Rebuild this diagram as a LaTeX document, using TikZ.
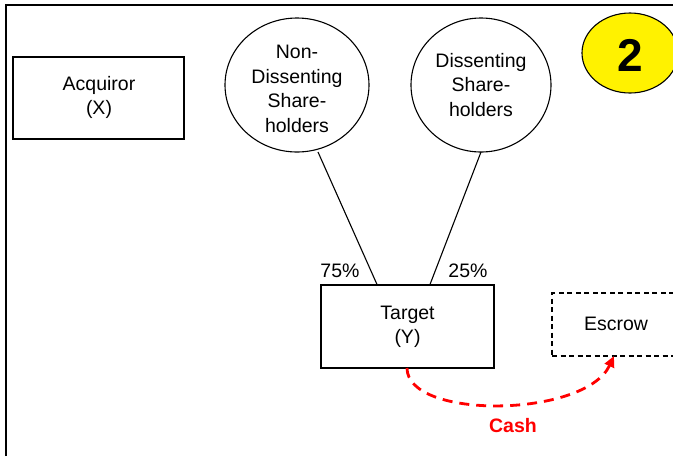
\documentclass[tikz,border=0pt]{standalone}
\usepackage{fontspec}
\setmainfont{Liberation Sans}
\usetikzlibrary{arrows.meta}
\begin{document}
\begin{tikzpicture}[x=1pt,y=-1pt,
  txt/.style={font=\fontsize{19.5}{24.5}\selectfont, align=center},
  entity/.style={draw, line width=1.1pt, rectangle, inner sep=0pt},
  link/.style={line width=1.1pt},
  cashflow/.style={draw=red, line width=2.8pt, dash pattern=on 10pt off 7pt, -{Triangle[length=11pt,width=10pt]}}]
\useasboundingbox (0,0) rectangle (673,456);
\clip (0,0) rectangle (673,456);
% frame
\draw[line width=2.5pt] (6,456) -- (6,5) -- (680,5);
% Acquiror
\node[entity, minimum width=171pt, minimum height=82pt] (acq) at (98.5,98) {};
\node[txt] (acqt) at (99,97.5) {Acquiror\\(X)};
% circles
\draw[line width=1.1pt] (297,85) ellipse [x radius=72, y radius=67];
\node[inner sep=0pt, minimum width=144pt, minimum height=134pt] (nd) at (297,85) {};
\node[txt] (ndt) at (297,89) {Non-\\Dissenting\\Share-\\holders};
\draw[line width=1.1pt] (481,85) ellipse [x radius=70, y radius=67];
\node[inner sep=0pt, minimum width=140pt, minimum height=134pt] (ds) at (481,85) {};
\node[txt] (dst) at (481,85) {Dissenting\\Share-\\holders};
% number badge
\draw[line width=1.1pt, fill=yellow] (630,53) ellipse [x radius=48, y radius=40];
\node[font=\fontsize{46}{46}\selectfont\bfseries] (num) at (630,55) {2};
% target
\node[entity, minimum width=173pt, minimum height=83pt] (tgt) at (407.5,326.5) {};
\node[txt] (tgtt) at (407.5,327) {Target\\(Y)};
% escrow
\node[draw, line width=1.1pt, dash pattern=on 5pt off 3.5pt, minimum width=140pt, minimum height=63pt, inner sep=0pt] (esc) at (622,324.5) {};
\node[txt] (esct) at (616,324) {Escrow};
% ownership links
\coordinate (ndb) at (318,152);
\coordinate (dsb) at (481,152);
\draw[link] (ndb) -- (tgt.north -| 377,0);
\draw[link] (dsb) -- (tgt.north -| 430,0);
\node[txt] (p75) at (340,271) {75\%};
\node[txt] (p25) at (468,271) {25\%};
% cash
\coordinate (cs) at (407,368);
\coordinate (ce) at (614,356);
\draw[cashflow] (cs) .. controls (407,420) and (585,418) .. (ce);
\node[txt, text=red, font=\fontsize{19.5}{24}\selectfont\bfseries] (cash) at (513,426) {Cash};
\end{tikzpicture}
\end{document}
